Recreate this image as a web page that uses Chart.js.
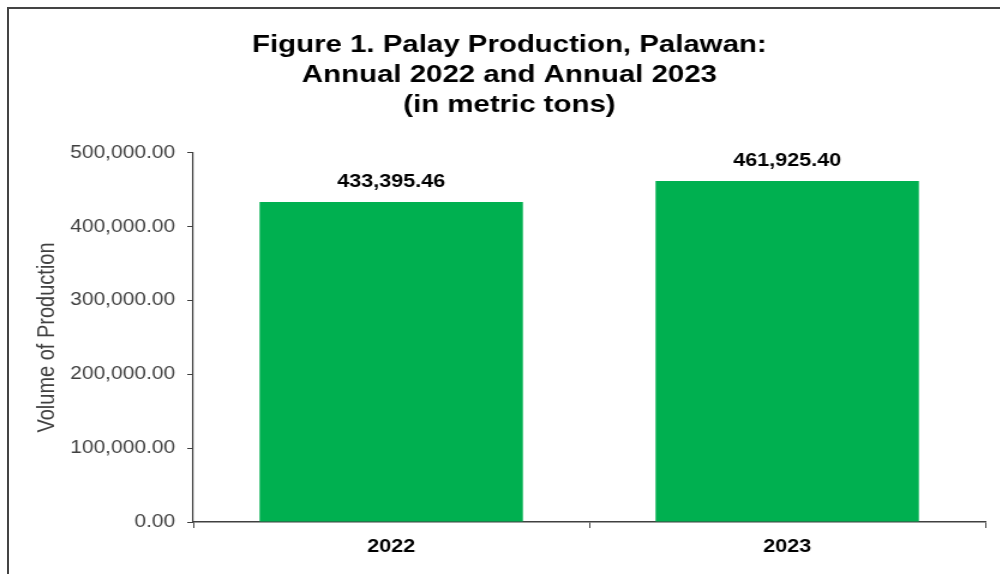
<!DOCTYPE html>
<html>
<head>
<meta charset="utf-8">
<script src="https://cdn.jsdelivr.net/npm/chart.js@4/dist/chart.umd.min.js"></script>
<style>
  body { margin: 0; background: #fff; overflow: hidden; }
  #frame { position: absolute; left: 7px; top: 7px; width: 1000px; height: 600px;
           border-left: 2px solid #444; border-top: 2px solid #444; }
  /* o original parece esticado na horizontal, entao estico o canvas tambem */
  #wrap { position: absolute; left: 0; top: 0; width: 833px; height: 574px;
          transform: scaleX(1.2); transform-origin: 0 0; }
</style>
</head>
<body>
<div id="frame"></div>
<div id="wrap"><canvas id="grafico"></canvas></div>
<script>
const anos = ['2022', '2023'];
const producao = [433395.46, 461925.40];
const eixo_y_max = 500000;
const eixo_y_passo = 100000;

const fonte = '"Liberation Sans", Arial, sans-serif';

function formata(v) {
    return v.toLocaleString('en-US', {minimumFractionDigits: 2, maximumFractionDigits: 2});
}

// rotulos em cima das barras
const rotulos = {
    id: 'rotulos',
    afterDatasetsDraw(chart) {
        const ctx = chart.ctx;
        const meta = chart.getDatasetMeta(0);
        ctx.save();
        ctx.font = 'bold 18px ' + fonte;
        ctx.fillStyle = '#000';
        ctx.textAlign = 'center';
        ctx.textBaseline = 'middle';
        meta.data.forEach((bar, i) => {
            ctx.fillText(formata(producao[i]), bar.x, bar.y - 20);
        });
        ctx.restore();
    }
};

function renderiza_grafico() {
    const ctx = document.getElementById('grafico').getContext('2d');
    new Chart(ctx, {
        type: 'bar',
        data: {
            labels: anos,
            datasets: [{
                label: 'Volume of Production',
                data: producao,
                backgroundColor: '#00B050',
                barPercentage: 0.665,
                categoryPercentage: 1
            }]
        },
        options: {
            responsive: true,
            maintainAspectRatio: false,
            animation: false,
            layout: { padding: { left: 28, right: 12, top: 0, bottom: 0 } },
            plugins: {
                legend: { display: false },
                tooltip: { enabled: false },
                title: {
                    display: true,
                    text: ['Figure 1. Palay Production, Palawan:', 'Annual 2022 and Annual 2023', '(in metric tons)'],
                    color: '#000',
                    font: { family: fonte, size: 24.5, weight: 'bold', lineHeight: 1.224 },
                    padding: { top: 30, bottom: 33 }
                }
            },
            scales: {
                x: {
                    offset: true,
                    grid: { display: true, drawOnChartArea: false, offset: true, tickLength: 6, color: '#404040', lineWidth: 1 },
                    border: { color: '#404040', width: 1.5 },
                    ticks: {
                        color: '#000',
                        padding: 8,
                        font: { family: fonte, size: 18, weight: 'bold' }
                    },
                    afterFit(scale) { scale.height = 52; }
                },
                y: {
                    min: 0,
                    max: eixo_y_max,
                    grid: { display: true, drawOnChartArea: false, tickLength: 5, color: '#404040', lineWidth: 1 },
                    border: { color: '#404040', width: 1.2 },
                    ticks: {
                        stepSize: eixo_y_passo,
                        color: '#404040',
                        padding: 10,
                        font: { family: fonte, size: 17.5 },
                        callback: (v) => formata(v)
                    },
                    title: {
                        display: true,
                        text: 'Volume of Production',
                        color: '#404040',
                        padding: { top: 0, bottom: 0 },
                        font: { family: fonte, size: 20, lineHeight: 1.1 }
                    },
                    afterFit(scale) { scale.width = 133; }
                }
            }
        },
        plugins: [rotulos]
    });
}
renderiza_grafico();
</script>
</body>
</html>
